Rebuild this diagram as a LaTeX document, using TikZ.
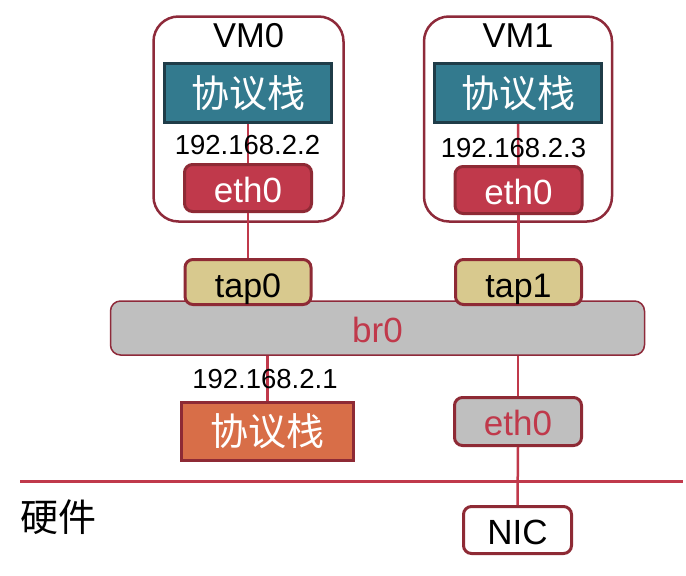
\documentclass[tikz,border=0pt]{standalone}
\usepackage{fontspec}
\setmainfont{Liberation Sans}
\newfontfamily\cjk{Noto Sans CJK SC}
\definecolor{vmborder}{HTML}{8E2A3A}
\definecolor{darkred}{HTML}{8E2A35}
\definecolor{linered}{HTML}{C0394B}
\definecolor{teal}{HTML}{337A8E}
\definecolor{tealdark}{HTML}{1F3C48}
\definecolor{ethred}{HTML}{C0394B}
\definecolor{tapfill}{HTML}{D8C98E}
\definecolor{greyfill}{HTML}{BFBFBF}
\definecolor{orangefill}{HTML}{D86E48}
\tikzset{
  latin/.style={font=\fontsize{35}{38}\selectfont, text height=28pt, text depth=0pt},
  vmbox/.style={draw=vmborder, line width=2.5pt, rounded corners=25pt, inner sep=0pt},
  stackbox/.style={draw=tealdark, fill=teal, line width=3pt, inner sep=0pt,
    minimum width=167pt, minimum height=59pt, text=white, font=\cjk\fontsize{38}{42}\selectfont},
  hstackbox/.style={draw=darkred, fill=orangefill, line width=3pt, inner sep=0pt,
    minimum width=172pt, minimum height=58pt, text=white, font=\cjk\fontsize{38}{42}\selectfont},
  ethbox/.style={draw=darkred, fill=ethred, line width=3pt, rounded corners=8pt, inner sep=0pt,
    minimum width=127pt, minimum height=47pt, text=white, latin},
  tapbox/.style={draw=darkred, fill=tapfill, line width=3pt, rounded corners=8pt, inner sep=0pt,
    minimum width=126pt, minimum height=45pt, text=black, latin,
    font=\fontsize{34}{38}\selectfont, text height=30pt},
  hethbox/.style={draw=darkred, fill=greyfill, line width=3pt, rounded corners=8pt, inner sep=0pt,
    minimum width=127pt, minimum height=48pt, text=linered, latin},
  nicbox/.style={draw=darkred, fill=white, line width=3pt, rounded corners=8pt, inner sep=0pt,
    minimum width=108pt, minimum height=47pt, text=black, latin},
  brbox/.style={draw=vmborder, fill=greyfill, line width=1.5pt, rounded corners=10pt, inner sep=0pt,
    minimum width=534pt, minimum height=54pt, text=linered, latin},
  vmlabel/.style={inner sep=0pt, anchor=base, font=\fontsize{34.5}{38}\selectfont},
  iplabel/.style={inner sep=0pt, anchor=base, font=\fontsize{27.5}{30}\selectfont},
  hwlabel/.style={inner sep=0pt, font=\cjk\fontsize{38}{42}\selectfont},
  conn/.style={draw=linered, line width=2.5pt},
  hwline/.style={draw=linered, line width=3pt}
}
\begin{document}
\begin{tikzpicture}[x=1pt,y=-1pt]
\useasboundingbox (0,0) rectangle (686,576);
% VM boxes
\node[vmbox, minimum width=190pt, minimum height=205pt] (vm0) at (248.5,119) {};
\node[vmbox, minimum width=188pt, minimum height=205pt] (vm1) at (518,119) {};
\node[vmlabel] (vm0l) at (248.5,47) {VM0};
\node[vmlabel] (vm1l) at (518,47) {VM1};
% stacks
\node[stackbox] (st0) at (248,93) {协议栈};
\node[stackbox] (st1) at (518,93) {协议栈};
% bridge
\node[brbox] (br0) at (377.5,328) {br0};
% eth0 in VMs
\node[ethbox] (e0) at (248,188) {eth0};
\node[ethbox] (e1) at (518.5,190) {eth0};
% taps
\node[tapbox] (tap0) at (248,282) {tap0};
\node[tapbox] (tap1) at (518.5,282) {tap1};
% host
\node[hstackbox] (hst) at (267.5,431) {协议栈};
\node[hethbox] (he) at (518,421.5) {eth0};
\node[nicbox] (nic) at (517.5,530) {NIC};
% hardware line
\coordinate (hwl) at (20,481);
\coordinate (hwr) at (683,481);
\draw[hwline] (hwl) -- (hwr);
\node[hwlabel] (hw) at (58,517) {硬件};
% connectors
\draw[conn] (st0.south) -- (e0.north);
\draw[conn] (st1.south) -- (e1.north);
\draw[conn] (e0.south) -- (tap0.north);
\draw[conn] (e1.south) -- (tap1.north);
\draw[conn] (br0.south -| hst.north) -- (hst.north);
\draw[conn] (br0.south -| he.north) -- (he.north);
\draw[conn] (he.south) -- (nic.north);
% IP labels
\node[iplabel] (ip0) at (247.5,154) {192.168.2.2};
\node[iplabel] (ip1) at (513.5,157) {192.168.2.3};
\node[iplabel] (iph) at (265,388) {192.168.2.1};
\end{tikzpicture}
\end{document}
